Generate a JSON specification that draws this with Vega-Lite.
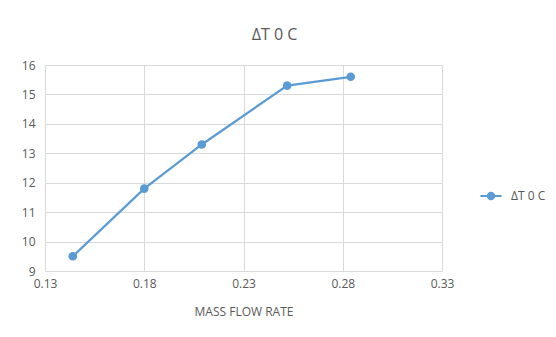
{
  "$schema": "https://vega.github.io/schema/vega-lite/v6.json",
  "autosize": {"type": "none"},
  "width": 397,
  "height": 206,
  "padding": {"left": 45, "top": 65, "right": 114, "bottom": 66},
  "background": "white",
  "title": {"text": "ΔT 0 C", "font": "Open Sans", "fontSize": 16, "fontWeight": "normal", "color": "#595959", "anchor": "middle", "dx": 31, "offset": 16},
  "data": {"values": [
    {"flow": 0.144, "dt": 9.5, "series": "ΔT 0 C"},
    {"flow": 0.18, "dt": 11.8, "series": "ΔT 0 C"},
    {"flow": 0.209, "dt": 13.3, "series": "ΔT 0 C"},
    {"flow": 0.252, "dt": 15.3, "series": "ΔT 0 C"},
    {"flow": 0.284, "dt": 15.6, "series": "ΔT 0 C"}
  ]},
  "mark": {"type": "line", "strokeWidth": 2.25, "point": {"filled": true, "size": 75, "opacity": 1}},
  "encoding": {
    "x": {"field": "flow", "type": "quantitative", "scale": {"domain": [0.13, 0.33], "nice": false, "zero": false},
      "axis": {"title": "MASS FLOW RATE", "values": [0.13, 0.18, 0.23, 0.28, 0.33], "format": ".2f", "titlePadding": 17, "labelFlush": false, "labelPadding": 7}},
    "y": {"field": "dt", "type": "quantitative", "scale": {"domain": [9, 16], "nice": false, "zero": false},
      "axis": {"title": null, "values": [9, 10, 11, 12, 13, 14, 15, 16], "domain": false, "labelPadding": 10}},
    "color": {"field": "series", "type": "nominal", "scale": {"range": ["#5b9bd5"]},
      "legend": {"title": null, "orient": "none", "legendX": 434, "legendY": 119, "symbolType": "M-1,0L1,0M-0.3,0A0.3,0.3 0 1,1 0.3,0A0.3,0.3 0 1,1 -0.3,0", "symbolSize": 450, "symbolStrokeWidth": 2, "labelFont": "Open Sans", "labelFontSize": 12, "labelColor": "#595959", "labelOffset": 8}}
  },
  "config": {
    "view": {"stroke": null},
    "axis": {"labelFont": "Open Sans", "labelFontSize": 12, "labelColor": "#595959", "titleFont": "Open Sans", "titleFontSize": 12, "titleFontWeight": "normal", "titleColor": "#595959", "gridColor": "#d9d9d9", "gridWidth": 1, "domainColor": "#d9d9d9", "ticks": false}
  }
}
